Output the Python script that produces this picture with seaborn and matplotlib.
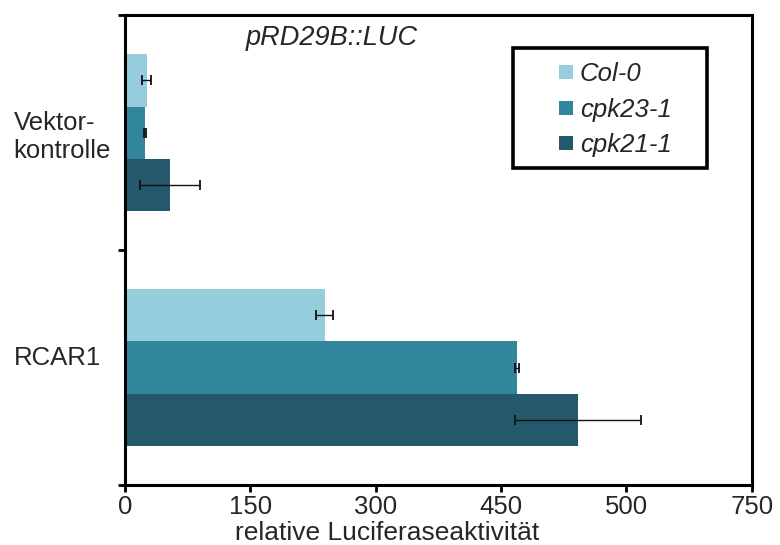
import matplotlib
matplotlib.use("Agg")
import matplotlib.pyplot as plt
import matplotlib.transforms as mtransforms
from matplotlib.lines import Line2D
from matplotlib.patches import Rectangle
import pandas as pd
import seaborn as sns

# values
constructs = ["Vektor-\nkontrolle", "RCAR1"]
lines = ["Col-0", "cpk23-1", "cpk21-1"]
means = {
    "Col-0":   [26, 239],
    "cpk23-1": [24, 469],
    "cpk21-1": [54, 542],
}
errors = {
    "Col-0":   [5.5, 10.5],
    "cpk23-1": [1.5, 2],
    "cpk21-1": [36, 75],
}
xticks = [0, 150, 300, 450, 600, 750]
xticklabels = ["0", "150", "300", "450", "500", "750"]
colors = ["#95cddd", "#32869c", "#23596a"]

rows = []
for ln in lines:
    for i, c in enumerate(constructs):
        rows.append({"construct": c, "line": ln, "value": means[ln][i]})
df = pd.DataFrame(rows)

sns.set_style("white")
plt.rcParams["font.family"] = ["Liberation Sans", "DejaVu Sans"]
fs = 18.5

fig = plt.figure(figsize=(7.8, 5.45), dpi=100)
ax = fig.add_axes([0.160, 0.110, 0.804, 0.862])

sns.barplot(data=df, y="construct", x="value", hue="line", orient="h",
            palette=colors, width=0.667, errorbar=None, saturation=1,
            linewidth=0, ax=ax, legend=False)

# error bars at the centre of each bar drawn by seaborn
for ln, cont in zip(lines, ax.containers):
    for i, bar in enumerate(cont):
        yc = bar.get_y() + bar.get_height() / 2
        ax.errorbar(bar.get_width(), yc, xerr=errors[ln][i], fmt="none",
                    ecolor="#111111", elinewidth=1, capsize=3.5, capthick=1.3)

ax.set_xlim(0, 750)
ax.set_ylim(1.5, -0.5)
ax.set_xticks(xticks)
ax.set_xticklabels(xticklabels, fontsize=fs)
ax.set_xlabel("relative Luciferaseaktivität", fontsize=19)
ax.xaxis.set_label_coords(0.419, -0.077, transform=ax.transAxes)
ax.xaxis.label.set_va("top")
ax.set_ylabel("")

ax.set_yticks([0, 1])
ax.set_yticklabels(constructs, fontsize=fs, ha="left", multialignment="left")
ax.tick_params(axis="y", which="major", length=0, pad=80)
ax.set_yticks([-0.5, 0.5, 1.5], minor=True)
ax.tick_params(axis="y", which="minor", length=5, width=2, color="black", direction="out", left=True)
ax.tick_params(axis="x", length=5, width=2, color="black", direction="out", bottom=True, pad=2)
# RCAR1 label sits a little above its group centre
lab = ax.get_yticklabels()[1]
lab.set_transform(lab.get_transform() + mtransforms.ScaledTranslation(0, 12 / 100, fig.dpi_scale_trans))

for s in ax.spines.values():
    s.set_visible(True)
    s.set_color("black")
    s.set_linewidth(2.2)

ax.text(0.330, 0.979, "pRD29B::LUC", transform=ax.transAxes, fontsize=19.5,
        style="italic", ha="center", va="top")

handles = [Line2D([], [], linestyle="none", marker="s", markersize=10,
                  markerfacecolor=c, markeredgewidth=0) for c in colors]
leg = ax.legend(handles, lines, loc="center left", bbox_to_anchor=(0.689, 0.799),
                fontsize=fs, frameon=False, handlelength=0.7, numpoints=1,
                handletextpad=0.19, labelspacing=0.45, borderpad=0, borderaxespad=0)
for t in leg.get_texts():
    t.set_style("italic")
ax.add_patch(Rectangle((0.619, 0.674), 0.309, 0.256, transform=ax.transAxes,
                       fill=False, edgecolor="black", linewidth=2.6, zorder=5))

fig.savefig("out.png", dpi=100)
